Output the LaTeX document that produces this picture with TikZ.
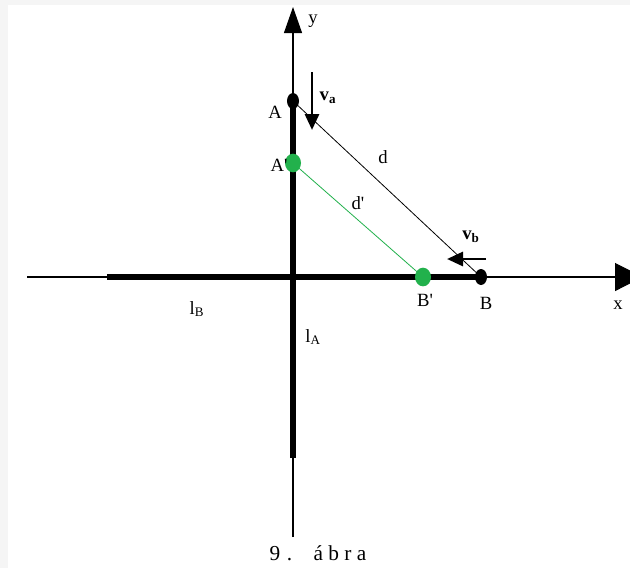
\documentclass[tikz,border=0pt]{standalone}
\usepackage{fontspec}
\setmainfont{Liberation Serif}[Ligatures=TeXOff]
\usetikzlibrary{arrows.meta,shapes.geometric,positioning}
\definecolor{dotgreen}{RGB}{34,177,76}

\begin{document}
\begin{tikzpicture}[x=0.75pt, y=-0.75pt, font=\fontsize{14}{16}\selectfont]
    % Define styles
    \tikzstyle{xaxis} = [line width=0.8pt, -{Triangle[length=21pt, width=21pt]}]
    \tikzstyle{yaxis} = [line width=0.8pt, -{Triangle[length=19.5pt, width=13.5pt]}]
    \tikzstyle{track} = [line width=4pt]
    \tikzstyle{blackdot} = [ellipse, fill=black, minimum width=9pt, minimum height=12pt, inner sep=0pt]
    \tikzstyle{greendot} = [ellipse, fill=dotgreen, minimum width=12pt, minimum height=14pt, inner sep=0pt]
    \tikzstyle{velo} = [line width=2.2pt, -{Triangle[length=12pt, width=10.5pt]}]
    \tikzstyle{lbl} = [inner sep=0pt]

    % Frame
    \clip (0,0) rectangle (630,568);
    \fill[gray!8] (0,0) rectangle (630,568);
    \fill[white] (8,5) rectangle (630,568);

    % Axes
    \coordinate (xstart) at (27,277);
    \coordinate (xend) at (643,277);
    \coordinate (ystart) at (293,537);
    \coordinate (yend) at (293,7);
    \draw[xaxis] (xstart) -- (xend);
    \draw[yaxis] (ystart) -- (yend);
    \node[lbl] (xlabel) at (618,305) {x};
    \node[lbl] (ylabel) at (313,21) {y};

    % Points
    \coordinate (Apos) at (293,101);
    \coordinate (Bpos) at (481,277);
    \coordinate (Appos) at (293,163);
    \coordinate (Bppos) at (423,277);

    % Tracks
    \coordinate (lBstart) at (107,277);
    \coordinate (lAstart) at (293,458);
    \draw[track] (lBstart) -- (Bpos);
    \draw[track] (lAstart) -- (Apos);

    % Distances
    \draw[line width=0.6pt] (Apos) -- (Bpos);
    \draw[dotgreen, line width=0.6pt] (Appos) -- (Bppos);

    % Dots
    \node[blackdot] (A) at (Apos) {};
    \node[blackdot] (B) at (Bpos) {};
    \node[greendot] (Ap) at (Appos) {};
    \node[greendot] (Bp) at (Bppos) {};

    % Velocities
    \coordinate (vastart) at (312,72);
    \coordinate (vaend) at (312,130);
    \coordinate (vbstart) at (486,259);
    \coordinate (vbend) at (447,259);
    \draw[velo] (vastart) -- (vaend);
    \draw[velo] (vbstart) -- (vbend);

    % Labels
    \node[lbl] (Alabel) at (275,112) {A};
    \node[lbl] (Aplabel) at (279,165) {A'};
    \node[lbl] (Blabel) at (486,303) {B};
    \node[lbl] (Bplabel) at (425,300) {B'};
    \node[lbl] (dlabel) at (383,157) {d};
    \node[lbl] (dplabel) at (358,203) {d'};
    \node[lbl] (valabel) at (328,98) {\textbf{v}\textsubscript{\textbf{a}}};
    \node[lbl] (vblabel) at (471,237) {\textbf{v}\textsubscript{\textbf{b}}};
    \node[lbl] (lBlabel) at (197,309) {l\textsubscript{B}};
    \node[lbl] (lAlabel) at (313,337) {l\textsubscript{A}};

    % Caption
    \node[lbl, font=\fontsize{16}{18}\selectfont] (caption) at (318,553)
        {9\hspace{5pt}.\hspace{16pt}á\hspace{4pt}b\hspace{4pt}r\hspace{4pt}a};
\end{tikzpicture}
\end{document}
